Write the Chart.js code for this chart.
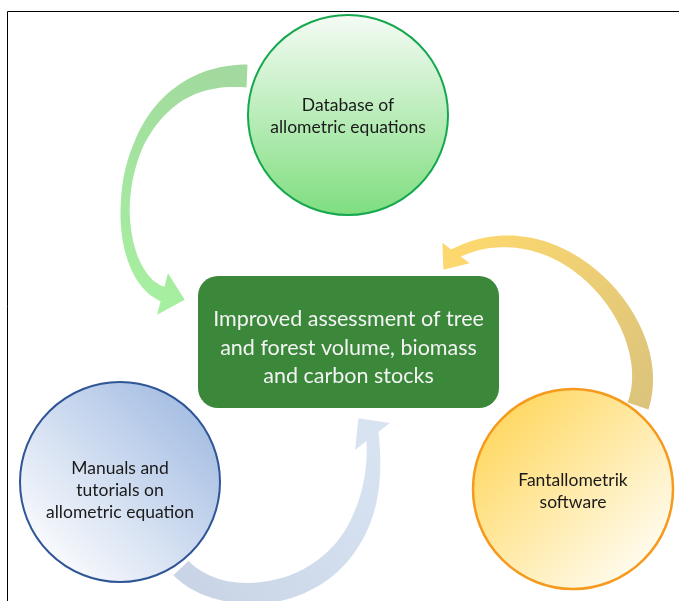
<!DOCTYPE html>
<html>
<head>
<meta charset="utf-8">
<script src="https://cdn.jsdelivr.net/npm/chart.js@4.4.0/dist/chart.umd.min.js"></script>
<style>
  body { margin: 0; background: #fff; }
  #wrap { width: 679px; height: 601px; position: relative; }
</style>
</head>
<body>
<div id="wrap"><canvas id="diagrama"></canvas></div>
<script>
// circulos do ciclo
var nodeLabels = [
  ["Database of", "allometric equations"],
  ["Manuals and", "tutorials on", "allometric equation"],
  ["Fantallometrik", "software"]
]
var nodeX = [348, 120, 573]
var nodeY = [115, 482, 489]

// caixa central
var centerLabel = ["Improved assessment of tree", "and forest volume, biomass", "and carbon stocks"]
var centerX = [198, 499]
var centerY = [276, 408]

// setas (pontos de controle da curva, mesma escala dos circulos)
var setaVerdeX = [247, 108, 100, 162.5]
var setaVerdeY = [76, 70, 270, 294]
var setaAmarelaX = [638, 666, 560, 456]
var setaAmarelaY = [406, 325, 203, 253]
var setaAzulX = [181, 230, 385, 372.5]
var setaAzulY = [568, 620, 600, 436.5]

function bez(p, t) { var u = 1 - t; return u*u*u*p[0] + 3*u*u*t*p[1] + 3*u*t*t*p[2] + t*t*t*p[3] }
function bezD(p, t) { var u = 1 - t; return 3*u*u*(p[1]-p[0]) + 6*u*t*(p[2]-p[1]) + 3*t*t*(p[3]-p[2]) }
function largura(w, t) {
  var n = w.length - 1, k = Math.min(Math.floor(t*n), n-1), f = t*n - k
  return w[k] + (w[k+1] - w[k]) * f
}

function desenhaSeta(ctx, chart, xs, ys, w, head, c0, c1) {
  var sx = chart.scales.x, sy = chart.scales.y
  var X = xs.map(function(v){ return sx.getPixelForValue(v) })
  var Y = ys.map(function(v){ return sy.getPixelForValue(v) })
  var hl = Math.hypot(head[0], head[1]), hx = head[0]/hl, hy = head[1]/hl
  var esq = [], dir = []
  for (var i = 0; i <= 80; i++) {
    var t = i/80
    var x = bez(X, t), y = bez(Y, t), dx = bezD(X, t), dy = bezD(Y, t), l = Math.hypot(dx, dy)
    dx /= l; dy /= l
    if (t > 0.8) {
      var f = (t - 0.8) / 0.2
      dx = dx*(1-f) + hx*f; dy = dy*(1-f) + hy*f
      l = Math.hypot(dx, dy); dx /= l; dy /= l
    }
    var h = largura(w, t) / 2
    esq.push([x - dy*h, y + dx*h])
    dir.push([x + dy*h, y - dx*h])
  }
  var mx = X[3], my = Y[3]
  ctx.beginPath()
  ctx.moveTo(esq[0][0], esq[0][1])
  for (var i = 1; i < esq.length; i++) ctx.lineTo(esq[i][0], esq[i][1])
  ctx.lineTo(mx - hy*head[2], my + hx*head[2])
  ctx.lineTo(mx + hx*head[3], my + hy*head[3])
  ctx.lineTo(mx + hy*head[2], my - hx*head[2])
  for (var i = dir.length - 1; i >= 0; i--) ctx.lineTo(dir[i][0], dir[i][1])
  ctx.closePath()
  var g = ctx.createLinearGradient(X[0], Y[0], mx, my)
  g.addColorStop(0, c0)
  g.addColorStop(1, c1)
  ctx.fillStyle = g
  ctx.fill()
}

var pluginSetas = {
  id: 'setas',
  beforeDatasetsDraw: function(chart) {
    var ctx = chart.ctx
    ctx.save()
    // moldura
    ctx.strokeStyle = '#000'
    ctx.lineWidth = 1
    ctx.beginPath()
    ctx.moveTo(7.5, 605)
    ctx.lineTo(7.5, 11.5)
    ctx.lineTo(685, 11.5)
    ctx.stroke()

    desenhaSeta(ctx, chart, setaVerdeX, setaVerdeY, [23, 15, 10, 9, 11, 15], [0.967, 0.253, 21.5, 23], '#a2d99e', '#a6eea0')
    desenhaSeta(ctx, chart, setaAmarelaX, setaAmarelaY, [22, 20, 17, 14, 12, 12], [-0.6, 0.8, 17, 21], '#dcc47c', '#fdd86e')
    desenhaSeta(ctx, chart, setaAzulX, setaAzulY, [21, 20, 22, 22, 19, 15], [-0.61, -0.79, 22, 23], '#c9d5e6', '#d8e3f2')
    ctx.restore()
  },
  afterDatasetsDraw: function(chart) {
    var ctx = chart.ctx, sx = chart.scales.x, sy = chart.scales.y
    ctx.save()
    // caixa central
    var x0 = sx.getPixelForValue(centerX[0]), x1 = sx.getPixelForValue(centerX[1])
    var y0 = sy.getPixelForValue(centerY[0]), y1 = sy.getPixelForValue(centerY[1])
    ctx.beginPath()
    ctx.roundRect(x0, y0, x1 - x0, y1 - y0, 20)
    ctx.fillStyle = '#3b883a'
    ctx.fill()
    ctx.fillStyle = '#f4f4f4'
    ctx.font = '21.5px Lato'
    ctx.textAlign = 'center'
    ctx.textBaseline = 'middle'
    var cx = (x0 + x1) / 2, cy = (y0 + y1) / 2
    for (var i = 0; i < centerLabel.length; i++) {
      ctx.fillText(centerLabel[i], cx, cy + (i - (centerLabel.length - 1) / 2) * 28.5 + 6)
    }
    // textos dos circulos
    ctx.fillStyle = '#1a1a1a'
    ctx.font = '17.5px Lato'
    var deslocY = [1, 8, 2]
    for (var j = 0; j < nodeLabels.length; j++) {
      var px = sx.getPixelForValue(nodeX[j]), py = sy.getPixelForValue(nodeY[j])
      var linhas = nodeLabels[j]
      for (var k = 0; k < linhas.length; k++) {
        ctx.fillText(linhas[k], px, py + deslocY[j] + (k - (linhas.length - 1) / 2) * 22)
      }
    }
    ctx.restore()
  }
}

function gradienteCirculo(context) {
  var chart = context.chart, i = context.dataIndex
  if (!chart.chartArea) return '#fff'
  var cx = chart.scales.x.getPixelForValue(nodeX[i])
  var cy = chart.scales.y.getPixelForValue(nodeY[i])
  var g
  if (i == 0) {
    g = chart.ctx.createLinearGradient(cx, cy - 100, cx, cy + 100)
    g.addColorStop(0, '#f5fbf5')
    g.addColorStop(1, '#7fde7f')
  } else if (i == 1) {
    g = chart.ctx.createLinearGradient(cx - 75, cy + 75, cx + 75, cy - 75)
    g.addColorStop(0, '#fafbfd')
    g.addColorStop(1, '#a5bee3')
  } else {
    g = chart.ctx.createLinearGradient(cx - 75, cy - 75, cx + 75, cy + 75)
    g.addColorStop(0, '#ffd862')
    g.addColorStop(1, '#fffcf0')
  }
  return g
}

var ctxDiagrama = document.getElementById('diagrama')
var chartDiagrama = new Chart(ctxDiagrama, {
  type: 'bubble',
  data: {
    datasets: [{
      label: 'Nodes',
      data: nodeX.map(function(x, i){ return { x: x, y: nodeY[i] } }),
      radius: 100,
      backgroundColor: gradienteCirculo,
      borderColor: ['#16a84e', '#2f5597', '#f59a1c'],
      borderWidth: [2, 2, 2.5],
      clip: false
    }]
  },
  plugins: [pluginSetas],
  options: {
    responsive: true,
    maintainAspectRatio: false,
    animation: false,
    events: [],
    layout: { padding: 0, autoPadding: false },
    plugins: {
      legend: { display: false },
      tooltip: { enabled: false }
    },
    scales: {
      x: { type: 'linear', min: 0, max: 679, display: false },
      y: { type: 'linear', min: 0, max: 601, reverse: true, display: false }
    }
  }
});
</script>
</body>
</html>
